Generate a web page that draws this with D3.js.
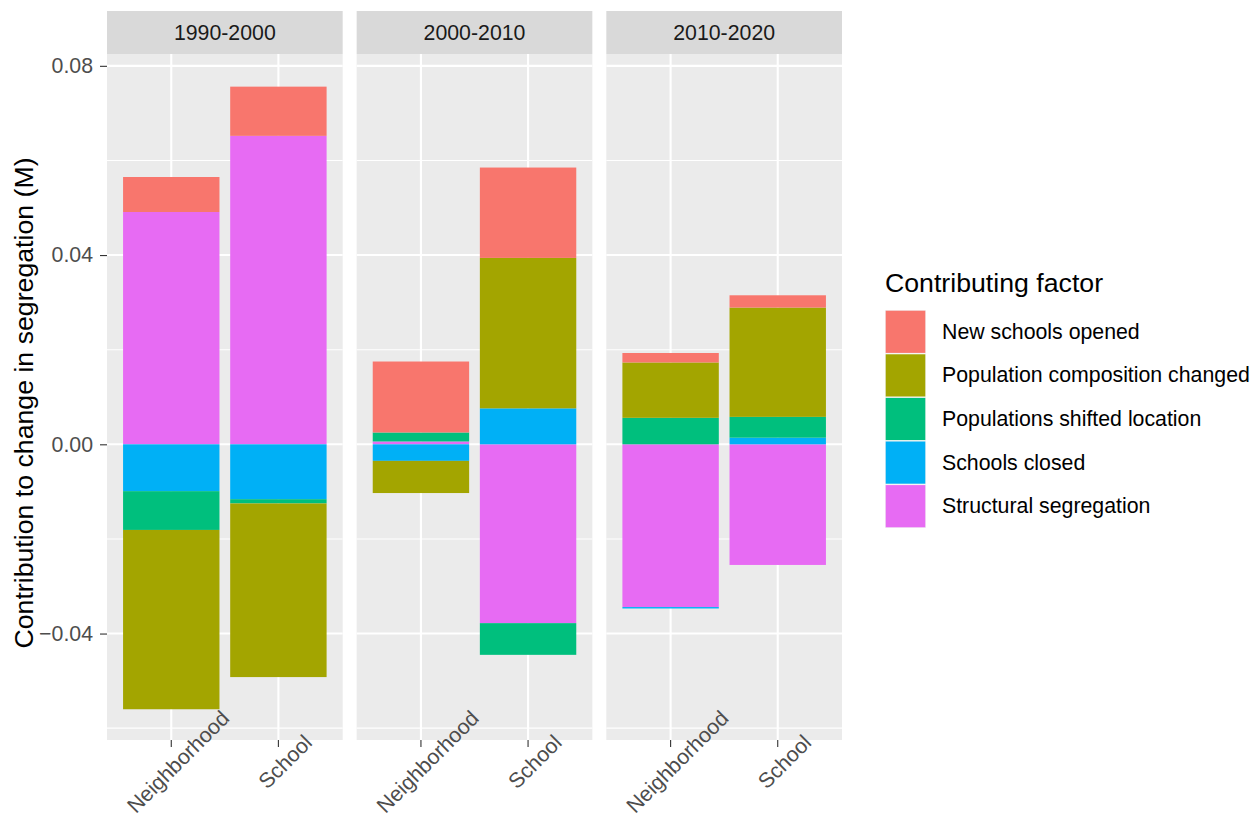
<!DOCTYPE html>
<html>
<head>
<meta charset="utf-8">
<script src="https://cdn.jsdelivr.net/npm/d3@7"></script>
<style>
  body { margin: 0; background: #fff; }
  svg { font-family: "Liberation Sans", Arial, sans-serif; }
</style>
</head>
<body>
<div id="chart"></div>
<script>
// facets, bars within each facet, factors (legend order)
const periods = ["1990-2000", "2000-2010", "2010-2020"];
const types = ["Neighborhood", "School"];
const factors = ["New schools opened", "Population composition changed",
                 "Populations shifted location", "Schools closed", "Structural segregation"];
const colors = ["#F8766D", "#A3A500", "#00BF7D", "#00B0F6", "#E76BF3"];

// values in order: 1990 N, 1990 S, 2000 N, 2000 S, 2010 N, 2010 S
const newSchools     = [0.0074, 0.0104, 0.0150, 0.0191, 0.0020, 0.0026];
const popComposition = [-0.0379, -0.0367, -0.0068, 0.0318, 0.0117, 0.0231];
const popShifted     = [-0.0082, -0.0009, 0.0019, -0.0067, 0.0056, 0.0044];
const schoolsClosed  = [-0.0099, -0.0116, -0.0035, 0.0076, -0.0003, 0.0014];
const structural     = [0.0491, 0.0652, 0.0006, -0.0378, -0.0344, -0.0255];

const yTicks = [-0.04, 0.00, 0.04, 0.08];
const yMinor = [-0.06, -0.02, 0.02, 0.06];

const seriesVals = [newSchools, popComposition, popShifted, schoolsClosed, structural];

// build one row per bar
const rows = [];
periods.forEach((p, i) => {
  types.forEach((t, j) => {
    const k = i * types.length + j;
    const r = { period: p, type: t };
    factors.forEach((f, fi) => r[f] = seriesVals[fi][k]);
    rows.push(r);
  });
});

const width = 1259, height = 819;
const panelLeft = 107, panelRight = 842, panelGap = 14;
const stripTop = 11, panelTop = 54, panelBottom = 740;
const panelW = (panelRight - panelLeft - 2 * panelGap) / 3;

const color = d3.scaleOrdinal().domain(factors).range(colors);

const y = d3.scaleLinear().domain([-0.0625, 0.0825]).range([panelBottom, panelTop]);

// ggplot stacks the last level closest to zero
const series = d3.stack()
  .keys(factors.slice().reverse())
  .offset(d3.stackOffsetDiverging)(rows);

const svg = d3.select("#chart").append("svg")
  .attr("width", width).attr("height", height);

periods.forEach((p, i) => {
  const x0 = panelLeft + i * (panelW + panelGap);
  const x = d3.scaleBand().domain(types)
    .range([x0, x0 + panelW])
    .paddingInner(0.1).paddingOuter(0.15);

  const g = svg.append("g");

  // strip
  g.append("rect").attr("x", x0).attr("y", stripTop)
    .attr("width", panelW).attr("height", panelTop - stripTop).attr("fill", "#D9D9D9");
  g.append("text").attr("x", x0 + panelW / 2).attr("y", (stripTop + panelTop) / 2)
    .attr("text-anchor", "middle").attr("dominant-baseline", "central")
    .attr("font-size", 21.3).attr("fill", "#1A1A1A").text(p);

  // panel background and grid
  g.append("rect").attr("x", x0).attr("y", panelTop)
    .attr("width", panelW).attr("height", panelBottom - panelTop).attr("fill", "#EBEBEB");
  g.selectAll(".minor").data(yMinor).join("line")
    .attr("x1", x0).attr("x2", x0 + panelW)
    .attr("y1", d => y(d)).attr("y2", d => y(d))
    .attr("stroke", "#fff").attr("stroke-width", 1.1);
  g.selectAll(".major").data(yTicks).join("line")
    .attr("x1", x0).attr("x2", x0 + panelW)
    .attr("y1", d => y(d)).attr("y2", d => y(d))
    .attr("stroke", "#fff").attr("stroke-width", 2.1);
  g.selectAll(".vgrid").data(types).join("line")
    .attr("x1", d => x(d) + x.bandwidth() / 2).attr("x2", d => x(d) + x.bandwidth() / 2)
    .attr("y1", panelTop).attr("y2", panelBottom)
    .attr("stroke", "#fff").attr("stroke-width", 2.1);

  // bars
  series.forEach(s => {
    g.selectAll(null).data(s.filter(d => d.data.period === p)).join("rect")
      .attr("x", d => x(d.data.type))
      .attr("width", x.bandwidth())
      .attr("y", d => y(Math.max(d[0], d[1])))
      .attr("height", d => Math.abs(y(d[0]) - y(d[1])))
      .attr("fill", color(s.key));
  });

  // x axis
  const xa = g.append("g").attr("transform", `translate(0,${panelBottom})`)
    .call(d3.axisBottom(x).tickSize(7).tickPadding(0).tickSizeOuter(0));
  xa.select(".domain").remove();
  xa.selectAll(".tick line").attr("stroke", "#333").attr("stroke-width", 1.1);
  xa.selectAll(".tick text").remove();
  xa.selectAll(".tick").append("text")
    .attr("transform", "translate(7,22) rotate(-45)")
    .attr("text-anchor", "middle").attr("dominant-baseline", "central")
    .attr("font-size", 21.3).attr("fill", "#4D4D4D")
    .text(d => d);
});

// y axis
const ya = svg.append("g").attr("transform", `translate(${panelLeft},0)`)
  .call(d3.axisLeft(y).tickValues(yTicks).tickSize(7).tickPadding(7)
    .tickFormat(d3.format(".2f")).tickSizeOuter(0));
ya.select(".domain").remove();
ya.selectAll(".tick line").attr("stroke", "#333").attr("stroke-width", 1.1);
ya.selectAll(".tick text").attr("font-size", 21.3).attr("fill", "#4D4D4D")
  .attr("font-family", "Liberation Sans, Arial, sans-serif");

svg.append("text")
  .attr("transform", `translate(33,${(panelTop + panelBottom) / 2 + 6}) rotate(-90)`)
  .attr("text-anchor", "middle").attr("font-size", 26.7).attr("fill", "#000")
  .text("Contribution to change in segregation (M)");

// legend
const legend = svg.append("g").attr("transform", "translate(885,0)");
legend.append("text").attr("x", 0).attr("y", 292)
  .attr("font-size", 26.7).attr("fill", "#000").text("Contributing factor");
const item = legend.selectAll(".item").data(factors).join("g")
  .attr("transform", (d, i) => `translate(0,${310 + i * 43.6})`);
item.append("rect").attr("width", 41).attr("height", 43.6).attr("fill", "#F2F2F2");
item.append("rect").attr("x", 0.7).attr("y", 0.7).attr("width", 39.6).attr("height", 42.2)
  .attr("fill", d => color(d));
item.append("text").attr("x", 57).attr("y", 21.8)
  .attr("dominant-baseline", "central").attr("font-size", 21.3).attr("fill", "#000")
  .text(d => d);
</script>
</body>
</html>
